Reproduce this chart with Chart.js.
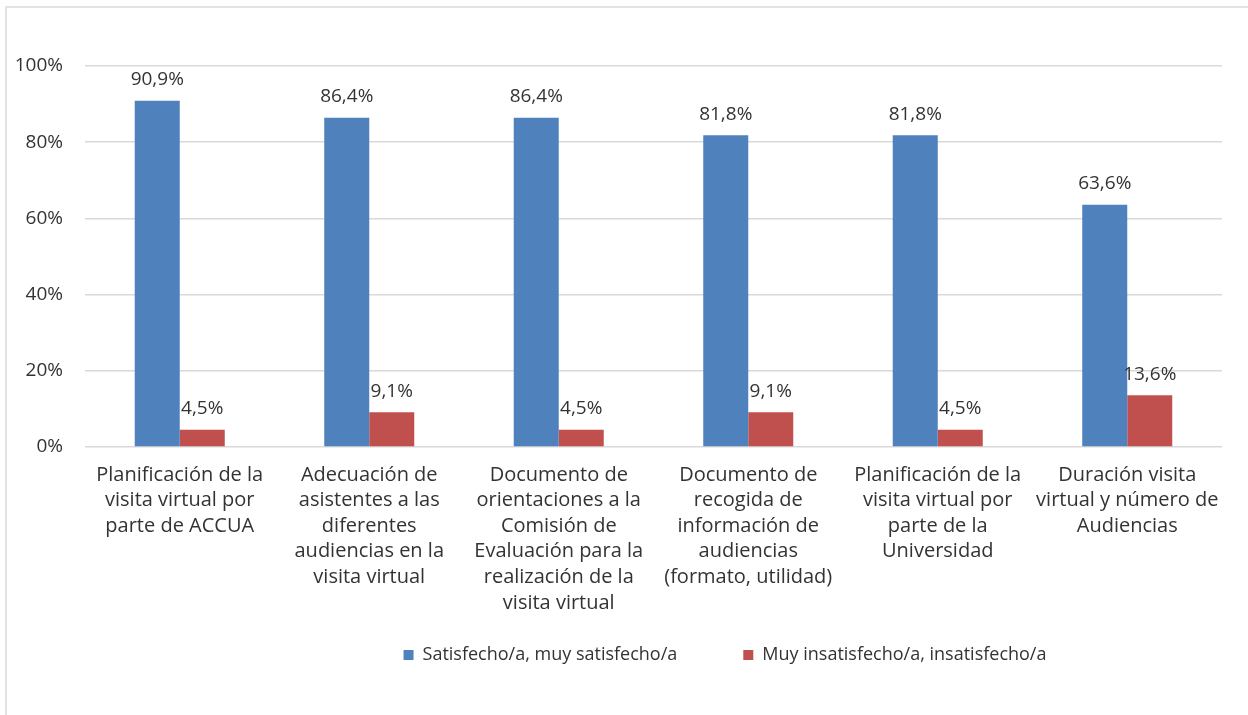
<!DOCTYPE html>
<html>
<head>
<meta charset="utf-8">
<script src="https://cdn.jsdelivr.net/npm/chart.js@4.4.1/dist/chart.umd.min.js"></script>
<style>
html,body{margin:0;padding:0;background:#fff;overflow:hidden;}
#frame{position:absolute;left:5px;top:6px;width:1260px;height:730px;border-left:2px solid #e3e3e3;border-top:2px solid #e3e3e3;}
#wrap{position:absolute;left:0;top:0;width:1248px;height:715px;}
</style>
</head>
<body>
<div id="frame"></div>
<div id="wrap"><canvas id="c" width="1248" height="715"></canvas></div>
<script>
const categories = [
  ["Planificación de la","visita virtual por","parte de ACCUA"],
  ["Adecuación de","asistentes a las","diferentes","audiencias en la","visita virtual"],
  ["Documento de","orientaciones a la","Comisión de","Evaluación para la","realización de la","visita virtual"],
  ["Documento de","recogida de","información de","audiencias","(formato, utilidad)"],
  ["Planificación de la","visita virtual por","parte de la","Universidad"],
  ["Duración visita","virtual y número de","Audiencias"]
];
const seriesNames = ["Satisfecho/a, muy satisfecho/a", "Muy insatisfecho/a, insatisfecho/a"];
const satisfechos = [90.9, 86.4, 86.4, 81.8, 81.8, 63.6];
const insatisfechos = [4.5, 9.1, 4.5, 9.1, 4.5, 13.6];
const yTicks = [0, 20, 40, 60, 80, 100];

const FONT = "'Open Sans', 'Liberation Sans', sans-serif";
const TXT = '#333333';

const labelPlugin = {
  id: 'barLabels',
  afterDatasetsDraw(chart) {
    const ctx = chart.ctx;
    ctx.save();
    ctx.font = '19px ' + FONT;
    ctx.fillStyle = TXT;
    ctx.textAlign = 'center';
    ctx.textBaseline = 'middle';
    chart.data.datasets.forEach((ds, di) => {
      chart.getDatasetMeta(di).data.forEach((bar, i) => {
        const v = ds.data[i];
        ctx.fillText(v.toFixed(1).replace('.', ',') + '%', bar.x, bar.y - 21);
      });
    });
    ctx.restore();
  }
};

// move the legend box to where the reference places it
const legendShift = {
  id: 'legendShift',
  afterLayout(chart) {
    const lg = chart.legend;
    if (!lg) return;
    lg.top -= 36; lg.bottom -= 36;
    lg.left += 114; lg.right += 114;
  }
};

new Chart(document.getElementById('c'), {
  type: 'bar',
  data: {
    labels: categories,
    datasets: [
      { label: seriesNames[0], data: satisfechos, backgroundColor: '#4F81BD', categoryPercentage: 0.475, barPercentage: 1.0 },
      { label: seriesNames[1], data: insatisfechos, backgroundColor: '#C0504D', categoryPercentage: 0.475, barPercentage: 1.0 }
    ]
  },
  options: {
    responsive: false,
    animation: false,
    layout: { padding: { top: 66, right: 26, left: 0, bottom: 5 } },
    plugins: {
      tooltip: { enabled: false },
      legend: {
        position: 'bottom',
        labels: {
          boxWidth: 10, boxHeight: 10, padding: 66,
          color: TXT, font: { family: FONT, size: 18 }
        }
      }
    },
    scales: {
      x: {
        grid: { display: false, drawTicks: false },
        border: { display: false },
        ticks: { color: TXT, font: { family: FONT, size: 20, lineHeight: 1.28 }, padding: 15, maxRotation: 0, autoSkip: false },
        afterFit: s => { s.height = 169; }
      },
      y: {
        min: 0, max: 100,
        afterBuildTicks: s => { s.ticks = yTicks.map(v => ({ value: v })); },
        grid: { color: '#d9d9d9', lineWidth: 1.5, drawTicks: false },
        border: { display: false },
        ticks: { color: TXT, font: { family: FONT, size: 19 }, padding: 22, callback: v => v + '%' },
        afterFit: s => { s.width = 85; }
      }
    }
  },
  plugins: [labelPlugin, legendShift]
});
</script>
</body>
</html>
